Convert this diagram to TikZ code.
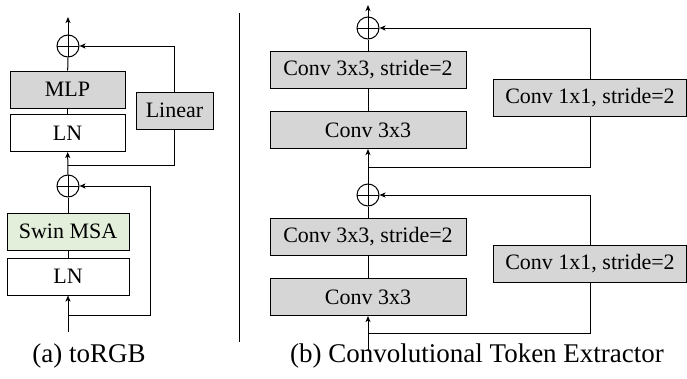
\documentclass[tikz,border=0pt]{standalone}
\usepackage{fontspec}
\setmainfont{Liberation Serif}
\usetikzlibrary{arrows.meta}
\definecolor{blockgray}{HTML}{D6D6D6}
\definecolor{swingreen}{HTML}{E3EFDA}

\begin{document}
\begin{tikzpicture}[x=1pt,y=-1pt,line width=1pt,>={Stealth[length=6pt,width=5pt,inset=1.5pt]}]
  \tikzset{blockstyle/.style={draw, rectangle, inner sep=0pt, minimum height=37pt, font=\fontsize{22}{26}\selectfont},
    addstyle/.style={draw, circle, minimum size=22pt, inner sep=0pt,
      path picture={\draw (path picture bounding box.west) -- (path picture bounding box.east)
        (path picture bounding box.north) -- (path picture bounding box.south);}},
    capstyle/.style={font=\fontsize{27}{32}\selectfont}}
  \useasboundingbox (0,0) rectangle (687,378);
  % Left: toRGB
  \node (lnb) [blockstyle, minimum width=122pt] at (68,276.5) {LN};
  \node (swin) [blockstyle, minimum width=122pt, fill=swingreen] at (68,231.5) {Swin MSA};
  \node (addb) [addstyle] at (68,186) {};
  \node (lnt) [blockstyle, minimum width=115pt] at (67.5,133) {LN};
  \node (mlp) [blockstyle, minimum width=115pt, fill=blockgray] at (67.5,89.5) {MLP};
  \node (linear) [blockstyle, minimum width=77pt, fill=blockgray] at (174.5,110.5) {Linear};
  \node (addt) [addstyle] at (68,46) {};
  \coordinate (inl) at (68,332);
  \coordinate (outl) at (68,17);
  \coordinate (brl) at (68,315);
  \coordinate (skipl) at (150,315);
  \coordinate (brm) at (68,165);
  \draw[->] (inl) -- (lnb);
  \draw (lnb) -- (swin);
  \draw (swin) -- (addb);
  \draw[->] (addb) -- (lnt);
  \draw (lnt) -- (mlp);
  \draw (mlp) -- (addt);
  \draw[->] (addt) -- (outl);
  \draw[->] (brl) -- (skipl) |- (addb);
  \draw (brm) -| (linear);
  \draw[->] (linear) |- (addt);
  \node (capa) [capstyle] at (89,356) {(a) toRGB};
  % Divider
  \coordinate (divtop) at (239,13);
  \coordinate (divbot) at (239,342);
  \draw[line width=0.8pt] (divtop) -- (divbot);
  % Right: Convolutional Token Extractor
  \node (c3b) [blockstyle, minimum width=196pt, fill=blockgray] at (368,297) {Conv 3x3};
  \node (c3sb) [blockstyle, minimum width=196pt, fill=blockgray] at (368,236.5) {Conv 3x3, stride=2};
  \node (c1b) [blockstyle, minimum width=193pt, fill=blockgray] at (590,263.5) {Conv 1x1, stride=2};
  \node (addrb) [addstyle] at (368,195) {};
  \node (c3t) [blockstyle, minimum width=196pt, fill=blockgray] at (368,130) {Conv 3x3};
  \node (c3st) [blockstyle, minimum width=196pt, fill=blockgray] at (368,69.5) {Conv 3x3, stride=2};
  \node (c1t) [blockstyle, minimum width=193pt, fill=blockgray] at (590,97.5) {Conv 1x1, stride=2};
  \node (addrt) [addstyle] at (368,28) {};
  \coordinate (inr) at (368,350);
  \coordinate (outr) at (368,5);
  \coordinate (brr) at (368,333);
  \coordinate (brrm) at (368,167);
  \draw[->] (inr) -- (c3b);
  \draw (c3b) -- (c3sb);
  \draw (c3sb) -- (addrb);
  \draw[->] (addrb) -- (c3t);
  \draw (c3t) -- (c3st);
  \draw (c3st) -- (addrt);
  \draw[->] (addrt) -- (outr);
  \draw (brr) -| (c1b);
  \draw[->] (c1b) |- (addrb);
  \draw (brrm) -| (c1t);
  \draw[->] (c1t) |- (addrt);
  \node (capb) [capstyle] at (477,356) {(b) Convolutional Token Extractor};
\end{tikzpicture}
\end{document}
